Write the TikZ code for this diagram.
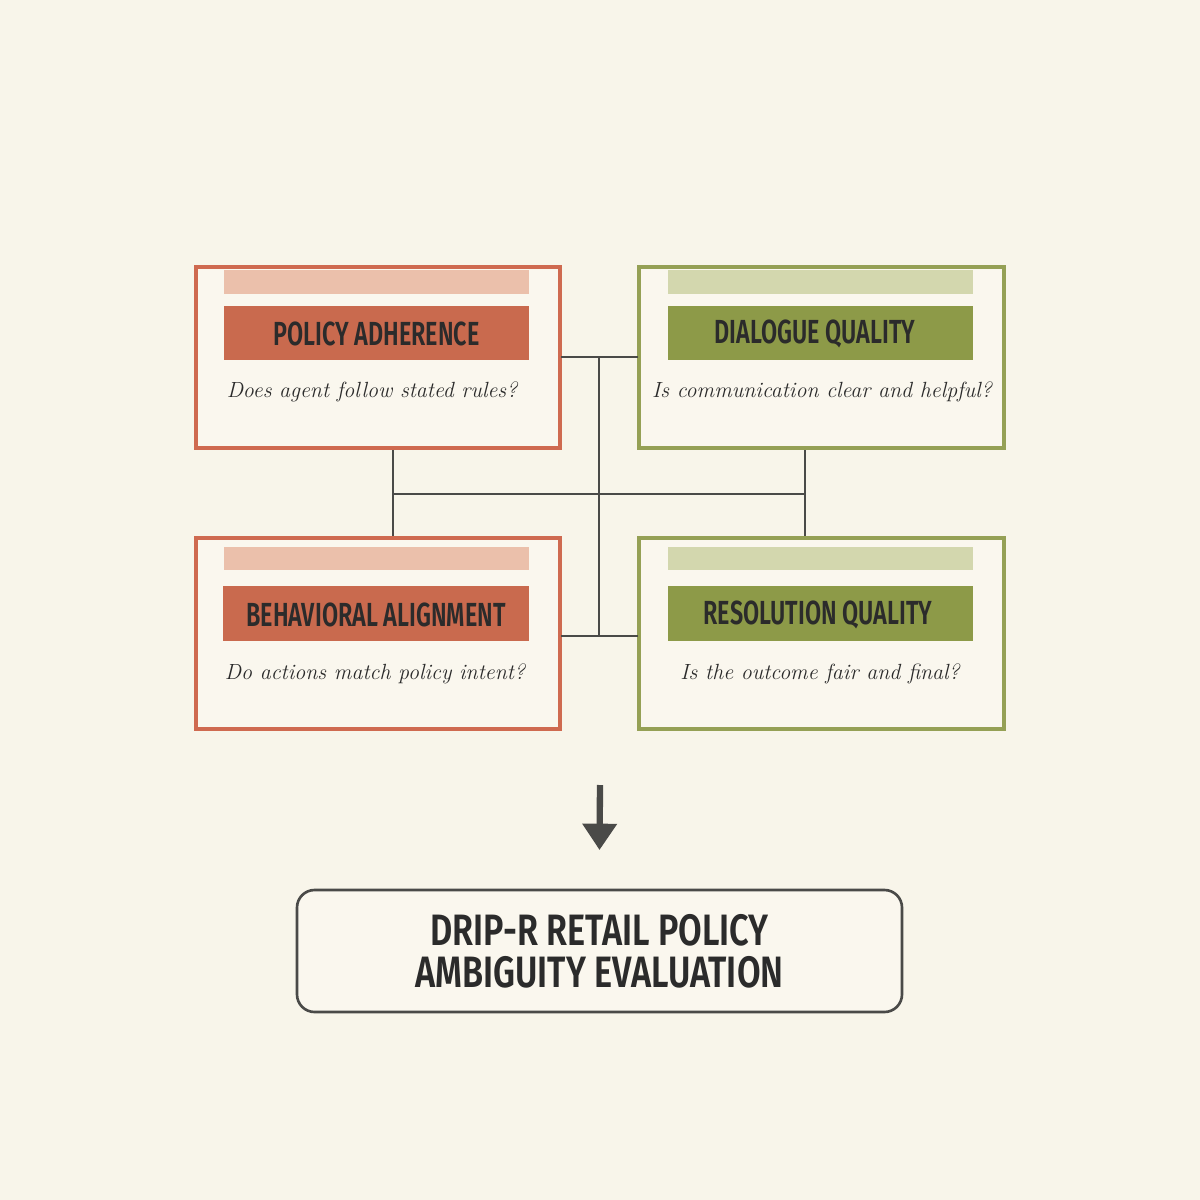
\documentclass[tikz,border=0pt]{standalone}
\usepackage{fontspec}
\newfontfamily\headfont{Fira Sans}[UprightFont=* SemiBold]
\usetikzlibrary{arrows.meta}
\definecolor{bg}{HTML}{F8F5EA}
\definecolor{inner}{HTML}{FAF7EE}
\definecolor{rborder}{HTML}{CF6A50}
\definecolor{rhead}{HTML}{C96A4E}
\definecolor{rlight}{HTML}{EBC0AB}
\definecolor{gborder}{HTML}{95A055}
\definecolor{ghead}{HTML}{8D9A48}
\definecolor{glight}{HTML}{D3D7AE}
\definecolor{ink}{HTML}{2B2B2B}
\definecolor{wire}{HTML}{4A4A48}
\tikzset{
  panel/.style={draw=#1, line width=2.6pt, fill=inner},
  hd/.style={text=ink, font=\headfont\fontsize{19}{19}\selectfont},
  q/.style={text=ink, font=\itshape\fontsize{12.5}{14}\selectfont},
  wirest/.style={draw=wire, line width=1.2pt}
}
\begin{document}
\begin{tikzpicture}[x=0.02cm,y=-0.02cm]
\useasboundingbox[fill=bg] (0,0) rectangle (1200,1200);
% panels
\draw[panel=rborder] (196,267) rectangle (560,448);
\draw[panel=gborder] (639,267) rectangle (1004,448);
\draw[panel=rborder] (196,538) rectangle (560,729);
\draw[panel=gborder] (639,538) rectangle (1004,729);
% bars
\fill[rlight] (224,270) rectangle (529,294);
\fill[glight] (668,270) rectangle (973,294);
\fill[rlight] (224,547) rectangle (529,570);
\fill[glight] (668,547) rectangle (973,570);
\fill[rhead] (224,306) rectangle (529,360);
\fill[ghead] (668,306) rectangle (973,360);
\fill[rhead] (223,586) rectangle (529,641);
\fill[ghead] (668,586) rectangle (973,641);
% nodes
\node[hd] (pa) at (376.5,334) {\scalebox{0.7}[1]{POLICY ADHERENCE}};
\node[hd] (dq) at (815,334) {\scalebox{0.7}[1]{DIALOGUE QUALITY}};
\node[hd] (ba) at (376,615) {\scalebox{0.7}[1]{BEHAVIORAL ALIGNMENT}};
\node[hd] (rq) at (818,615) {\scalebox{0.7}[1]{RESOLUTION QUALITY}};
\node[q] (paq) at (372,392) {Does agent follow stated rules?};
\node[q] (dqq) at (822,392) {Is communication clear and helpful?};
\node[q] (baq) at (375,674) {Do actions match policy intent?};
\node[q] (rqq) at (820,674) {Is the outcome fair and final?};
% anchors
\coordinate (tlr) at (561,357); \coordinate (trl) at (638,357);
\coordinate (blr) at (561,636); \coordinate (brl) at (638,636);
\coordinate (tlb) at (393,450); \coordinate (blt) at (393,536);
\coordinate (trb) at (805,450); \coordinate (brt) at (805,536);
\coordinate (ct) at (599,357); \coordinate (cb) at (599,636);
\coordinate (ml) at (393,494); \coordinate (mr) at (805,494);
\draw[wirest] (tlr) -- (trl);
\draw[wirest] (blr) -- (brl);
\draw[wirest] (ct) -- (cb);
\draw[wirest] (tlb) -- (blt);
\draw[wirest] (trb) -- (brt);
\draw[wirest] (ml) -- (mr);
% arrow and result
\coordinate (as) at (600,785);
\node[draw=wire, line width=1.5pt, rounded corners=10pt, fill=inner, minimum width=605*0.02cm, minimum height=122*0.02cm, align=center, text=ink, font=\headfont\fontsize{25}{26}\selectfont] (res) at (599.5,951) {\scalebox{0.78}[1]{DRIP-R RETAIL POLICY}\\[-2pt]\scalebox{0.78}[1]{AMBIGUITY EVALUATION}};
\draw[draw=wire, line width=3.6pt, -{Triangle[width=19pt,length=15pt]}] (as) -- ([yshift=22pt]res.north);
\end{tikzpicture}
\end{document}
